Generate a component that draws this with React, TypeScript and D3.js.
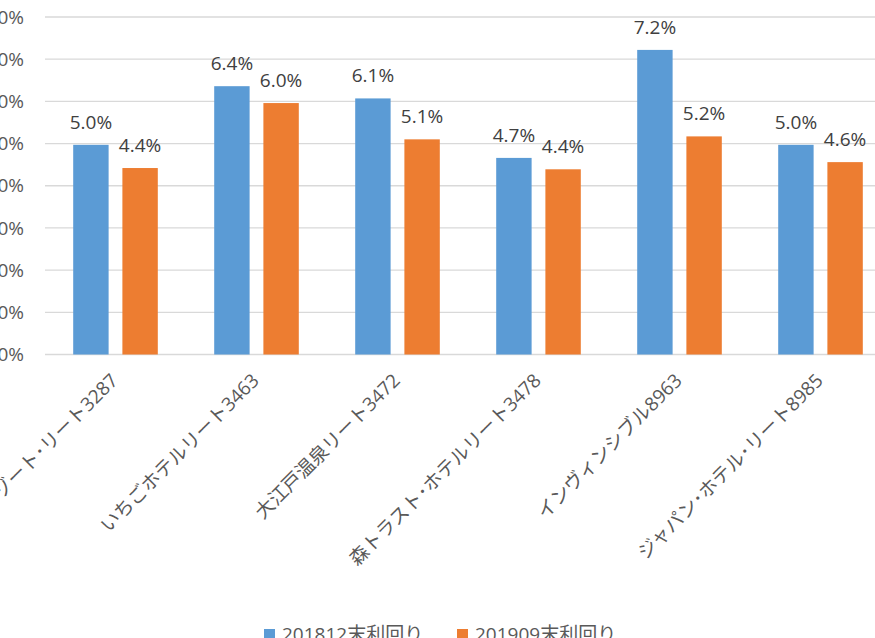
import * as d3 from 'd3'
import { useEffect, useRef } from 'react'

const categories = [
  '星野リゾート･リート3287',
  'いちごホテルリート3463',
  '大江戸温泉リート3472',
  '森トラスト･ホテルリート3478',
  'インヴィンシブル8963',
  'ジャパン･ホテル･リート8985',
]
const seriesNames = ['201812末利回り', '201909末利回り']
const yield201812 = [4.97, 6.36, 6.07, 4.66, 7.22, 4.97]
const yield201909 = [4.42, 5.96, 5.1, 4.39, 5.17, 4.56]
const yTicks = [0, 1, 2, 3, 4, 5, 6, 7, 8]
const colors = ['#5b9bd5', '#ed7d31']

const FONT = '"Open Sans", "Noto Sans CJK JP", sans-serif'

export default function App() {
  const svgRef = useRef<SVGSVGElement | null>(null)

  useEffect(() => {
    if (!svgRef.current)
      return

    const W = 875
    const H = 638
    const plot = { left: 45, right: 891, top: 17, bottom: 354.5 }

    const svg = d3.select(svgRef.current)
    svg.selectAll('*').remove()

    const x0 = d3
      .scaleBand()
      .domain(categories)
      .range([plot.left, plot.right])
      .paddingInner(0.4)
      .paddingOuter(0.2)

    const x1 = d3
      .scaleBand()
      .domain(seriesNames)
      .range([0, x0.bandwidth()])
      .paddingInner(0.28)

    const y = d3
      .scaleLinear()
      .domain([0, 8])
      .range([plot.bottom, plot.top])

    // グリッド線
    svg
      .append('g')
      .selectAll('line')
      .data(yTicks)
      .enter()
      .append('line')
      .attr('x1', plot.left)
      .attr('x2', W)
      .attr('y1', d => y(d))
      .attr('y2', d => y(d))
      .attr('stroke', '#d9d9d9')
      .attr('stroke-width', 1.3)

    // y軸ラベル (左端で切れている)
    svg
      .append('g')
      .selectAll('text')
      .data(yTicks)
      .enter()
      .append('text')
      .attr('x', 24)
      .attr('y', d => y(d))
      .attr('dy', '0.35em')
      .attr('text-anchor', 'end')
      .attr('font-family', FONT)
      .attr('font-size', 19)
      .attr('fill', '#595959')
      .text(d => `${d.toFixed(1)}%`)

    const rows = categories.map((c, i) => ({
      category: c,
      values: [yield201812[i], yield201909[i]],
    }))

    const groups = svg
      .append('g')
      .selectAll('g')
      .data(rows)
      .enter()
      .append('g')
      .attr('transform', d => `translate(${x0(d.category)},0)`)

    groups
      .selectAll('rect')
      .data(d => d.values.map((v, j) => ({ name: seriesNames[j], v, j })))
      .enter()
      .append('rect')
      .attr('x', d => x1(d.name) || 0)
      .attr('y', d => y(d.v))
      .attr('width', x1.bandwidth())
      .attr('height', d => plot.bottom - y(d.v))
      .attr('fill', d => colors[d.j])

    // データラベル
    groups
      .selectAll('text')
      .data(d => d.values.map((v, j) => ({ name: seriesNames[j], v, j })))
      .enter()
      .append('text')
      .attr('x', d => (x1(d.name) || 0) + x1.bandwidth() / 2)
      .attr('y', d => y(d.v) - 16)
      .attr('text-anchor', 'middle')
      .attr('font-family', FONT)
      .attr('font-size', 19)
      .attr('fill', '#404040')
      .text(d => `${d.v.toFixed(1)}%`)

    // x軸ラベル (45度回転)
    svg
      .append('g')
      .selectAll('text')
      .data(categories)
      .enter()
      .append('text')
      .attr('transform', d => {
        const cx = (x0(d) || 0) + x0.bandwidth() / 2 - 1
        return `translate(${cx},377) rotate(-45)`
      })
      .attr('text-anchor', 'end')
      .attr('dy', '0.35em')
      .attr('font-family', FONT)
      .attr('font-size', 19)
      .attr('fill', '#595959')
      .text(d => d)

    // 凡例
    const legendX = [264, 457]
    const legend = svg
      .append('g')
      .selectAll('g')
      .data(seriesNames)
      .enter()
      .append('g')
      .attr('transform', (_, i) => `translate(${legendX[i]},629)`)

    legend
      .append('rect')
      .attr('width', 11)
      .attr('height', 11)
      .attr('fill', (_, i) => colors[i])

    legend
      .append('text')
      .attr('x', 18)
      .attr('y', 5.5)
      .attr('dy', '0.35em')
      .attr('font-family', FONT)
      .attr('font-size', 19)
      .attr('fill', '#595959')
      .text(d => d)

    svg.attr('width', W).attr('height', H)
  }, [])

  return (
    <svg
      ref={svgRef}
      style={{ position: 'absolute', left: 0, top: 0, display: 'block', background: '#fff' }}
    ></svg>
  )
}
